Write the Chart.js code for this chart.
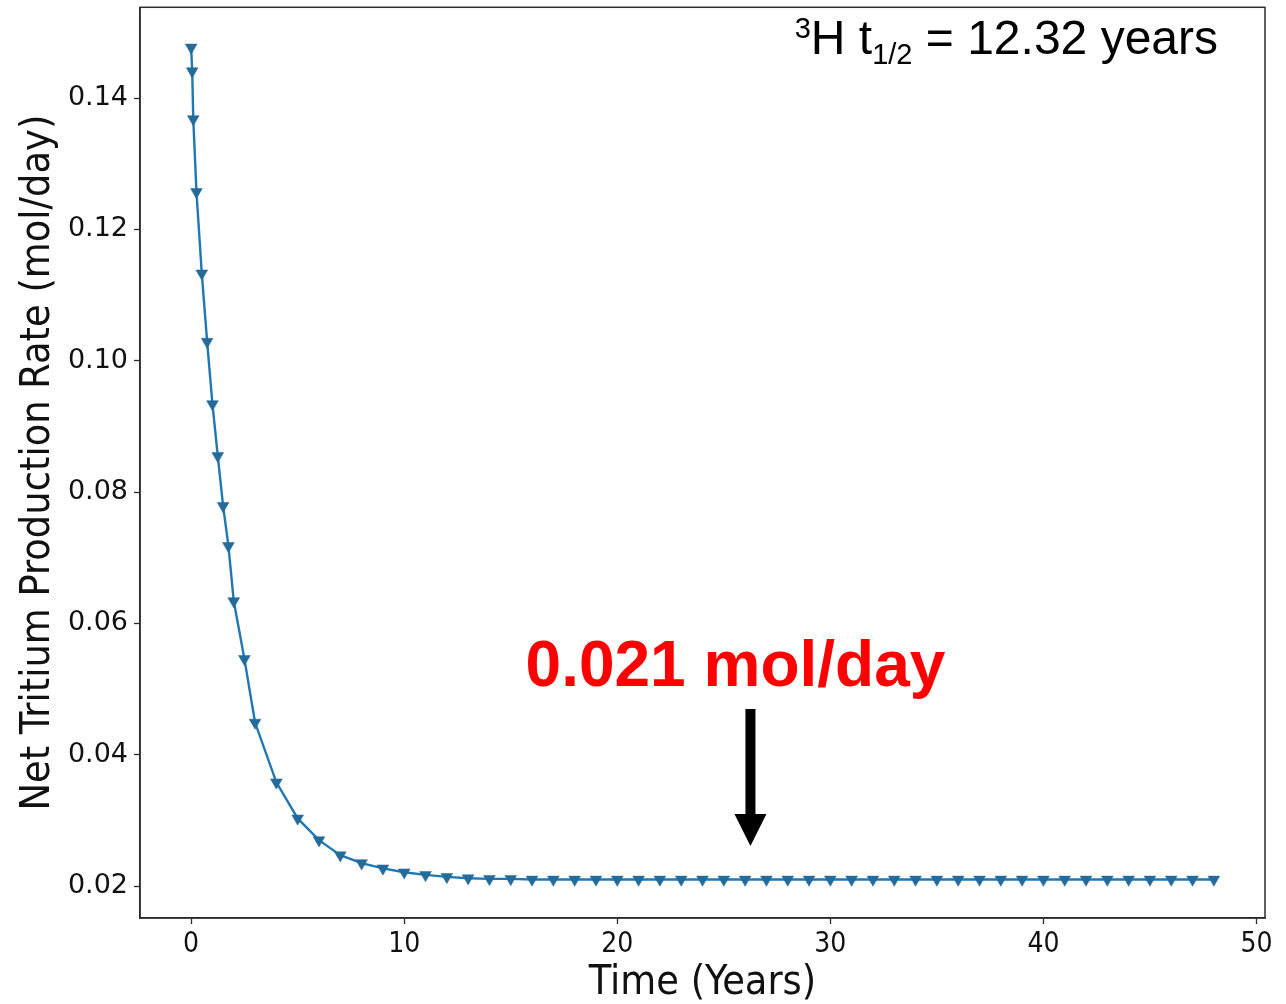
<!DOCTYPE html>
<html>
<head>
<meta charset="utf-8">
<script src="https://cdn.jsdelivr.net/npm/chart.js@4.4.1/dist/chart.umd.min.js"></script>
<style>
  html, body { margin: 0; padding: 0; background: #ffffff; }
  #wrap { width: 1286px; height: 1004px; position: relative; }
</style>
</head>
<body>
<div id="wrap"><canvas id="c" width="1286" height="1004"></canvas></div>
<script>
// Operating time (years) of each sample
const years = [
  0, 0.05, 0.1, 0.25, 0.5, 0.75, 1, 1.25, 1.5, 1.75, 2, 2.5, 3,
  4, 5, 6, 7, 8, 9, 10, 11, 12, 13, 14, 15, 16, 17, 18, 19, 20,
  21, 22, 23, 24, 25, 26, 27, 28, 29, 30, 31, 32, 33, 34, 35, 36,
  37, 38, 39, 40, 41, 42, 43, 44, 45, 46, 47, 48
];

// Net tritium production rate (mol/day)
const netRate = [
  0.1477, 0.1441, 0.1368, 0.1257, 0.1133, 0.1029, 0.0934, 0.0855, 0.0779, 0.0718, 0.0634, 0.0546, 0.0449,
  0.0358, 0.0303, 0.0270, 0.0247, 0.0235, 0.0227, 0.0221, 0.0217, 0.0214, 0.0212, 0.0211, 0.0211, 0.0210, 0.0210, 0.0210, 0.0210, 0.0210,
  0.0210, 0.0210, 0.0210, 0.0210, 0.0210, 0.0210, 0.0210, 0.0210, 0.0210, 0.0210, 0.0210, 0.0210, 0.0210, 0.0210, 0.0210, 0.0210,
  0.0210, 0.0210, 0.0210, 0.0210, 0.0210, 0.0210, 0.0210, 0.0210, 0.0210, 0.0210, 0.0210, 0.0210
];

const xTicks = [0, 10, 20, 30, 40, 50];
const yTicks = [0.02, 0.04, 0.06, 0.08, 0.10, 0.12, 0.14];
const xRange = [-2.4, 50.4];
const yRange = [0.01514, 0.15382];

const halfLife = 12.32;      // tritium half-life, years
const arrowYear = 26.25;     // where the steady-state arrow points

const steadyRate = netRate[netRate.length - 1];

const LINE_BLUE = '#1f77b4';
const MARK_BLUE = '#246b9a';
const AXIS_COLOR = '#2b2b2b';
const TEXT_COLOR = '#111111';
const COND = "'DejaVu Sans Condensed', 'DejaVu Sans', sans-serif";
const WIDE = "'DejaVu Sans', sans-serif";
const ARIAL = "'Liberation Sans', Arial, sans-serif";

// Box around the plotting area
const framePlugin = {
  id: 'frame',
  afterDraw(chart) {
    const { ctx, chartArea: a } = chart;
    ctx.save();
    ctx.strokeStyle = AXIS_COLOR;
    ctx.lineWidth = 1.5;
    ctx.strokeRect(a.left, a.top, a.right - a.left, a.bottom - a.top);
    ctx.restore();
  }
};

// Half-life note, steady-state label and arrow
const notesPlugin = {
  id: 'notes',
  afterDraw(chart) {
    const { ctx, chartArea: a } = chart;
    const xs = chart.scales.x;
    ctx.save();
    ctx.fillStyle = '#000000';
    ctx.textBaseline = 'alphabetic';
    ctx.textAlign = 'left';

    // ³H t½ = 12.32 years, right aligned near the top-right corner
    const pieces = [
      { t: '3', size: 29, dy: -16 },
      { t: 'H t', size: 48, dy: 0 },
      { t: '1/2', size: 29, dy: 10 },
      { t: ' = ' + halfLife.toFixed(2) + ' years', size: 48, dy: 0 }
    ];
    let total = 0;
    pieces.forEach(p => {
      ctx.font = p.size + 'px ' + ARIAL;
      p.w = ctx.measureText(p.t).width;
      total += p.w;
    });
    let x = a.right - 47 - total;
    const base = a.top + 47;
    pieces.forEach(p => {
      ctx.font = p.size + 'px ' + ARIAL;
      ctx.fillText(p.t, x, base + p.dy);
      x += p.w;
    });

    // steady-state label
    const ax = xs.getPixelForValue(arrowYear);
    ctx.fillStyle = '#ff0000';
    ctx.textAlign = 'center';
    ctx.font = 'bold 64px ' + ARIAL;
    ctx.fillText(steadyRate.toFixed(3) + ' mol/day', ax - 15, 686);

    // downward arrow
    ctx.fillStyle = '#000000';
    const shaftTop = 709, headTop = 814, tip = 846;
    ctx.fillRect(ax - 5, shaftTop, 10, headTop - shaftTop + 1);
    ctx.beginPath();
    ctx.moveTo(ax - 16, headTop);
    ctx.lineTo(ax + 16, headTop);
    ctx.lineTo(ax, tip);
    ctx.closePath();
    ctx.fill();
    ctx.restore();
  }
};

const points = years.map((t, i) => ({ x: t, y: netRate[i] }));

new Chart(document.getElementById('c'), {
  type: 'line',
  data: {
    datasets: [{
      data: points,
      borderColor: LINE_BLUE,
      borderWidth: 2.4,
      tension: 0,
      pointStyle: 'triangle',
      rotation: 180,
      pointRadius: 6.8,
      pointBackgroundColor: MARK_BLUE,
      pointBorderColor: MARK_BLUE,
      pointBorderWidth: 0.5,
      fill: false,
      clip: false
    }]
  },
  options: {
    responsive: false,
    devicePixelRatio: 1,
    animation: false,
    events: [],
    layout: { padding: { top: 5, right: 21, left: 0, bottom: 0 } },
    plugins: {
      legend: { display: false },
      tooltip: { enabled: false },
      title: { display: false }
    },
    scales: {
      x: {
        type: 'linear',
        min: xRange[0],
        max: xRange[1],
        afterBuildTicks: s => { s.ticks = xTicks.map(v => ({ value: v })); },
        afterFit: s => { s.height = 86; s.paddingLeft = 0; s.paddingRight = 0; },
        ticks: {
          font: { family: COND, size: 28 },
          color: TEXT_COLOR,
          padding: 4,
          maxRotation: 0,
          autoSkip: false,
          callback: v => String(v)
        },
        grid: {
          drawOnChartArea: false,
          drawTicks: true,
          tickLength: 6,
          tickWidth: 1.3,
          color: AXIS_COLOR
        },
        border: { display: true, color: AXIS_COLOR, width: 1.5 },
        title: {
          display: true,
          text: 'Time (Years)',
          color: TEXT_COLOR,
          font: { family: COND, size: 41, lineHeight: 1 },
          padding: { top: 0, bottom: 0 }
        }
      },
      y: {
        type: 'linear',
        min: yRange[0],
        max: yRange[1],
        afterBuildTicks: s => { s.ticks = yTicks.map(v => ({ value: v })); },
        afterFit: s => { s.width = 140; s.paddingTop = 0; s.paddingBottom = 0; },
        ticks: {
          font: { family: WIDE, size: 27 },
          color: TEXT_COLOR,
          padding: 6,
          autoSkip: false,
          callback: v => v.toFixed(2)
        },
        grid: {
          drawOnChartArea: false,
          drawTicks: true,
          tickLength: 6,
          tickWidth: 1.3,
          color: AXIS_COLOR
        },
        border: { display: true, color: AXIS_COLOR, width: 1.5 },
        title: {
          display: true,
          text: 'Net Tritium Production Rate (mol/day)',
          color: TEXT_COLOR,
          font: { family: COND, size: 41, lineHeight: 1 },
          padding: { top: 18, bottom: 0 }
        }
      }
    }
  },
  plugins: [framePlugin, notesPlugin]
});
</script>
</body>
</html>
